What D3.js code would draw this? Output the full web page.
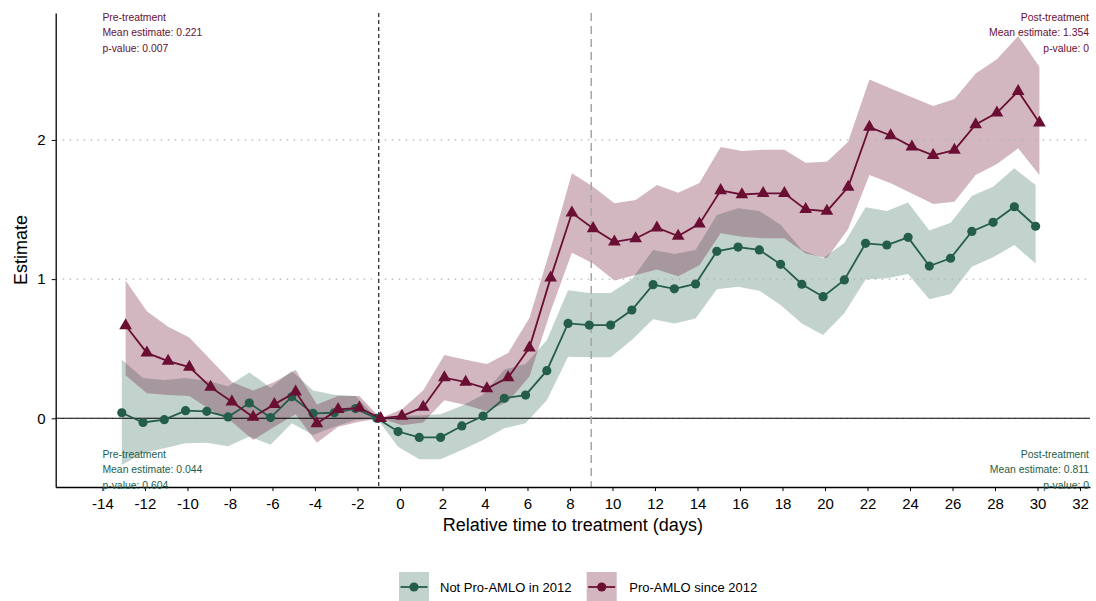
<!DOCTYPE html>
<html>
<head>
<meta charset="utf-8">
<script src="https://cdn.jsdelivr.net/npm/d3@7"></script>
<style>
  body { margin: 0; background: #fff; }
  svg { display: block; font-family: "Liberation Sans", Arial, sans-serif; }
</style>
</head>
<body>
<div id="vis"></div>
<script>
// data
let days = [-13,-12,-11,-10,-9,-8,-7,-6,-5,-4,-3,-2,-1,0,1,2,3,4,5,6,7,8,9,10,11,12,13,14,15,16,17,18,19,20,21,22,23,24,25,26,27,28,29,30];

// Not Pro-AMLO in 2012
let notProEst = [0.04,-0.03,-0.01,0.055,0.05,0.01,0.11,0.005,0.155,0.035,0.04,0.07,0,-0.095,-0.137,-0.137,-0.055,0.016,0.144,0.167,0.342,0.682,0.67,0.67,0.778,0.96,0.93,0.965,1.2,1.23,1.21,1.106,0.963,0.874,0.994,1.257,1.245,1.3,1.094,1.15,1.343,1.408,1.52,1.38];
let notProLow = [-0.336,-0.25,-0.215,-0.18,-0.175,-0.2,-0.13,-0.19,-0.036,-0.12,-0.06,-0.012,0,-0.204,-0.295,-0.295,-0.228,-0.156,-0.072,-0.036,0.13,0.443,0.438,0.438,0.562,0.711,0.682,0.718,0.927,0.945,0.917,0.814,0.682,0.598,0.754,0.998,1.006,1.037,0.855,0.893,1.089,1.157,1.245,1.113];
let notProHigh = [0.42,0.29,0.275,0.29,0.27,0.23,0.33,0.22,0.34,0.2,0.17,0.16,0,0.02,0.02,0.03,0.09,0.17,0.35,0.39,0.56,0.92,0.9,0.9,1.0,1.21,1.18,1.21,1.46,1.51,1.49,1.39,1.21,1.15,1.26,1.516,1.49,1.55,1.35,1.405,1.597,1.664,1.796,1.676];

// Pro-AMLO since 2012
let proEst = [0.667,0.47,0.411,0.368,0.224,0.119,0.009,0.1,0.19,-0.038,0.064,0.075,0,0.016,0.08,0.292,0.26,0.214,0.292,0.506,1.009,1.476,1.364,1.268,1.292,1.369,1.309,1.397,1.637,1.608,1.616,1.616,1.501,1.488,1.661,2.092,2.032,1.95,1.889,1.927,2.111,2.195,2.35,2.123];
let proLow = [0.31,0.18,0.168,0.16,0.06,-0.024,-0.156,-0.06,0.03,-0.175,-0.06,-0.024,0,-0.05,-0.03,0.13,0.096,0.05,0.12,0.3,0.77,1.19,1.113,0.99,1.03,1.07,1.02,1.1,1.33,1.305,1.293,1.293,1.185,1.15,1.36,1.748,1.688,1.616,1.54,1.556,1.748,1.827,1.94,1.748];
let proHigh = [0.99,0.77,0.658,0.58,0.42,0.26,0.2,0.26,0.347,0.1,0.16,0.16,0,0.065,0.2,0.455,0.42,0.39,0.47,0.72,1.22,1.76,1.664,1.545,1.568,1.676,1.62,1.69,1.95,1.92,1.93,1.93,1.836,1.843,1.987,2.435,2.37,2.306,2.243,2.294,2.478,2.579,2.746,2.526];

let xTicks = [-14,-12,-10,-8,-6,-4,-2,0,2,4,6,8,10,12,14,16,18,20,22,24,26,28,30,32];
let yTicks = [0, 1, 2];
let groups = ["Not Pro-AMLO in 2012", "Pro-AMLO since 2012"];
let colors = ["#245e4a", "#6a0f33"];

let notes = [
  { group: 1, side: "left",  pos: "top",    lines: ["Pre-treatment", "Mean estimate: 0.221", "p-value: 0.007"] },
  { group: 1, side: "right", pos: "top",    lines: ["Post-treatment", "Mean estimate: 1.354", "p-value: 0"] },
  { group: 0, side: "left",  pos: "bottom", lines: ["Pre-treatment", "Mean estimate: 0.044", "p-value: 0.604"] },
  { group: 0, side: "right", pos: "bottom", lines: ["Post-treatment", "Mean estimate: 0.811", "p-value: 0"] }
];

let W = 1096, H = 601;
let plot = { left: 55.7, right: 1090, top: 13, bottom: 487 };

let svg = d3.select('#vis')
  .append('svg')
  .attr('width', W)
  .attr('height', H);

let xScale = d3.scaleLinear()
  .domain([-16.2, 32.47])
  .range([plot.left, plot.right]);

let yScale = d3.scaleLinear()
  .domain([-0.4935, 2.912])
  .range([plot.bottom, plot.top]);

let dodge = 0.09;

// build series rows
let series = groups.map(function(g, i) {
  let est = i === 0 ? notProEst : proEst;
  let lo = i === 0 ? notProLow : proLow;
  let hi = i === 0 ? notProHigh : proHigh;
  let off = i === 0 ? -dodge : dodge;
  return days.map(function(d, j) {
    return { x: d + off, est: est[j], lo: lo[j], hi: hi[j] };
  });
});

// ribbons
let area = d3.area()
  .x(d => xScale(d.x))
  .y0(d => yScale(d.lo))
  .y1(d => yScale(d.hi));

svg.append("g")
  .selectAll("path")
  .data(series)
  .enter()
  .append("path")
    .attr("d", area)
    .attr("fill", (d, i) => colors[i])
    .attr("fill-opacity", (d, i) => i === 0 ? 0.28 : 0.3);

// dotted grid lines
svg.append("g")
  .selectAll("line")
  .data(yTicks)
  .enter()
  .append("line")
    .attr("x1", plot.left)
    .attr("x2", plot.right)
    .attr("y1", d => yScale(d))
    .attr("y2", d => yScale(d))
    .attr("stroke", "#b3b3b3")
    .attr("stroke-width", 1.3)
    .attr("stroke-dasharray", "1.5,5.5");

// zero line
svg.append("line")
  .attr("x1", plot.left).attr("x2", plot.right)
  .attr("y1", yScale(0)).attr("y2", yScale(0))
  .attr("stroke", "#000")
  .attr("stroke-width", 1.1);

// treatment lines
svg.append("line")
  .attr("x1", xScale(-1)).attr("x2", xScale(-1))
  .attr("y1", plot.top).attr("y2", plot.bottom)
  .attr("stroke", "#333")
  .attr("stroke-width", 1.3)
  .attr("stroke-dasharray", "4,3");

svg.append("line")
  .attr("x1", xScale(9)).attr("x2", xScale(9))
  .attr("y1", plot.top).attr("y2", plot.bottom)
  .attr("stroke", "#a6a6a6")
  .attr("stroke-width", 1.5)
  .attr("stroke-dasharray", "8,5");

// lines and points
let line = d3.line()
  .x(d => xScale(d.x))
  .y(d => yScale(d.est));

series.forEach(function(s, i) {
  let g = svg.append("g");
  g.append("path")
    .attr("d", line(s))
    .attr("fill", "none")
    .attr("stroke", colors[i])
    .attr("stroke-width", 1.8);
  if (i === 0) {
    g.selectAll("circle")
      .data(s)
      .enter()
      .append("circle")
        .attr("cx", d => xScale(d.x))
        .attr("cy", d => yScale(d.est))
        .attr("r", 4.6)
        .attr("fill", colors[i]);
  } else {
    g.selectAll(".tri")
      .data(s)
      .enter()
      .append("path")
        .attr("class", "tri")
        .attr("d", d3.symbol(d3.symbolTriangle, 70))
        .attr("transform", d => "translate(" + xScale(d.x) + "," + yScale(d.est) + ")")
        .attr("fill", colors[i]);
  }
});

// axes
let xAxis = svg.append("g")
  .attr("transform", "translate(0," + plot.bottom + ")")
  .call(d3.axisBottom(xScale).tickValues(xTicks).tickSize(4).tickSizeOuter(0).tickPadding(7)
    .tickFormat(d => d < 0 ? "-" + Math.abs(d) : d));
xAxis.select(".domain").attr("stroke-width", 1.3);
xAxis.selectAll("text").attr("font-size", 15).attr("fill", "#000").attr("font-family", "Liberation Sans, Arial, sans-serif");

let yAxis = svg.append("g")
  .attr("transform", "translate(" + plot.left + ",0)")
  .call(d3.axisLeft(yScale).tickValues(yTicks).tickSize(4).tickSizeOuter(0).tickPadding(6)
    .tickFormat(d3.format("d")));
yAxis.select(".domain").attr("stroke-width", 1.3);
yAxis.selectAll("text").attr("font-size", 15).attr("fill", "#000").attr("font-family", "Liberation Sans, Arial, sans-serif");

// axis titles
svg.append("text")
  .attr("x", (plot.left + plot.right) / 2)
  .attr("y", 530.5)
  .attr("text-anchor", "middle")
  .attr("font-size", 18)
  .text("Relative time to treatment (days)");

svg.append("text")
  .attr("transform", "translate(26.5," + ((plot.top + plot.bottom) / 2) + ") rotate(-90)")
  .attr("text-anchor", "middle")
  .attr("font-size", 18)
  .text("Estimate");

// annotations
notes.forEach(function(n) {
  let x = n.side === "left" ? xScale(-14) : 1089;
  let y0 = n.pos === "top" ? 20.5 : 457.5;
  let t = svg.append("text")
    .attr("font-size", 10.4)
    .attr("fill", colors[n.group])
    .attr("text-anchor", n.side === "left" ? "start" : "end");
  n.lines.forEach(function(l, k) {
    t.append("tspan").attr("x", x).attr("y", y0 + k * 15.5).text(l);
  });
});

// legend
let legendX = [399, 586.7];
let legend = svg.append("g")
  .selectAll("g")
  .data(groups)
  .enter()
  .append("g")
    .attr("transform", (d, i) => "translate(" + legendX[i] + ",572)");

legend.append("rect")
  .attr("width", 30).attr("height", 30)
  .attr("fill", (d, i) => colors[i])
  .attr("fill-opacity", (d, i) => i === 0 ? 0.28 : 0.3);
legend.append("line")
  .attr("x1", 1.5).attr("x2", 28.5)
  .attr("y1", 15).attr("y2", 15)
  .attr("stroke", (d, i) => colors[i])
  .attr("stroke-width", 1.8);
legend.append("circle")
  .attr("cx", 15).attr("cy", 15).attr("r", 4.6)
  .attr("fill", (d, i) => colors[i]);
legend.append("text")
  .attr("x", (d, i) => i === 0 ? 41 : 42.6)
  .attr("y", 19.5)
  .attr("font-size", 13)
  .text(d => d);
</script>
</body>
</html>
